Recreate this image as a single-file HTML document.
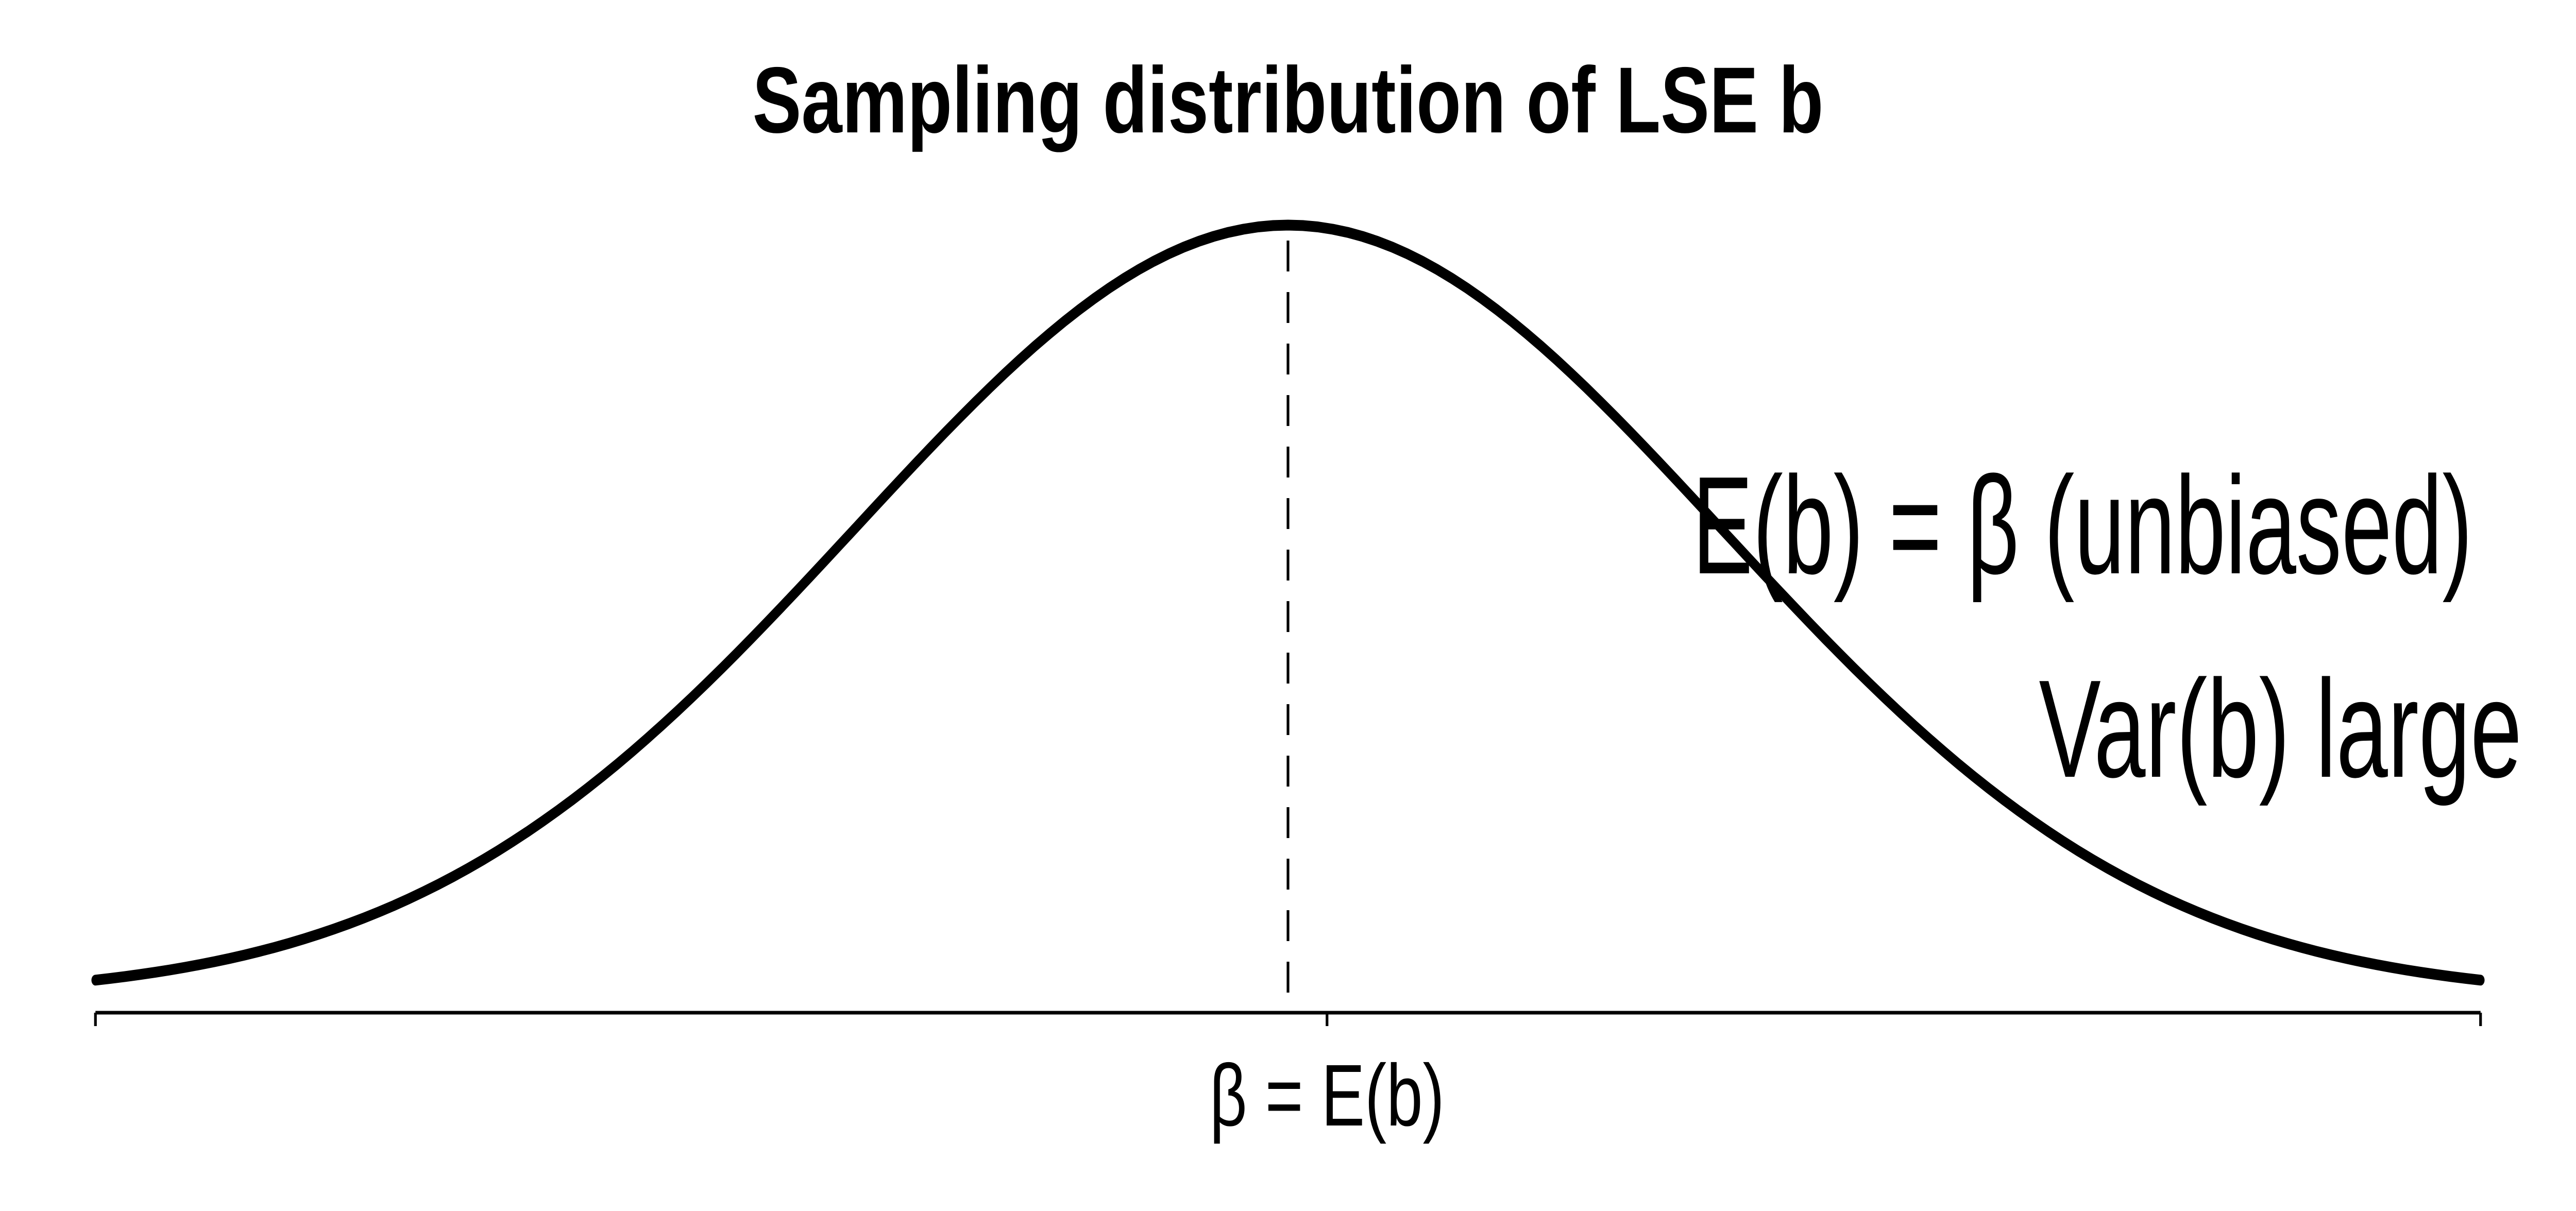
<!DOCTYPE html>
<html><head><meta charset="utf-8"><style>
html,body{margin:0;padding:0;background:#fff;width:100%;height:100%;overflow:hidden;}
svg{display:block;width:100vw;height:100vh;}
</style></head><body>
<svg id="chart" viewBox="0 0 6720 2351" preserveAspectRatio="none" xmlns="http://www.w3.org/2000/svg" font-family="'Liberation Sans', sans-serif">
<rect width="6720" height="2351" fill="#fff"/>
<text x="3360" y="257" text-anchor="middle" font-size="182" font-weight="bold" textLength="2794" lengthAdjust="spacingAndGlyphs">Sampling distribution of LSE b</text>
<g id="plot"></g>
<text x="6450" y="1113" text-anchor="end" font-size="270" textLength="2035" lengthAdjust="spacingAndGlyphs">E(b) = β (unbiased)</text>
<text x="6579" y="1508" text-anchor="end" font-size="270" textLength="1260" lengthAdjust="spacingAndGlyphs">Var(b) large</text>
</svg>
<script>
const xDomain = [-2.75, 2.75];
const distMean = [0];
const distSd = [1];
const tickValues = [-2.75, 0.09, 2.75];
const tickLabels = ["", "β = E(b)", ""];
const xPx = [249, 6471];
const yZeroPx = 1937, peakPx = 437;
const ns = "http://www.w3.org/2000/svg";
const g = document.getElementById('plot');
function sx(v){return xPx[0] + (v - xDomain[0]) / (xDomain[1] - xDomain[0]) * (xPx[1] - xPx[0]);}
function dens(v){return Math.exp(-0.5 * Math.pow((v - distMean[0]) / distSd[0], 2));}
function sy(d){return yZeroPx - d * (yZeroPx - peakPx);}
let pts = [];
for (let i = 0; i <= 160; i++) {
  const v = xDomain[0] + (xDomain[1] - xDomain[0]) * i / 160;
  pts.push(sx(v).toFixed(1) + ',' + sy(dens(v)).toFixed(1));
}
const curve = document.createElementNS(ns, 'polyline');
curve.setAttribute('points', pts.join(' '));
curve.setAttribute('fill', 'none');
curve.setAttribute('stroke', '#000');
curve.setAttribute('stroke-width', '21');
curve.setAttribute('stroke-linecap', 'round');
curve.setAttribute('stroke-linejoin', 'round');


g.appendChild(curve);
const ml = document.createElementNS(ns, 'line');
ml.setAttribute('x1', sx(distMean[0])); ml.setAttribute('x2', sx(distMean[0]));
ml.setAttribute('y1', sy(dens(distMean[0])) + 30); ml.setAttribute('y2', 1950);
ml.setAttribute('stroke', '#000'); ml.setAttribute('stroke-width', '7');
ml.setAttribute('stroke-dasharray', '60 40');


g.appendChild(ml);
const ax = document.createElementNS(ns, 'line');
ax.setAttribute('x1', sx(tickValues[0])); ax.setAttribute('x2', sx(tickValues[tickValues.length - 1]));
ax.setAttribute('y1', 1966); ax.setAttribute('y2', 1966);
ax.setAttribute('stroke', '#000'); ax.setAttribute('stroke-width', '7');


g.appendChild(ax);
tickValues.forEach((t, i) => {
  const tk = document.createElementNS(ns, 'line');
  tk.setAttribute('x1', sx(t)); tk.setAttribute('x2', sx(t));
  tk.setAttribute('y1', 1966); tk.setAttribute('y2', 1992);
  tk.setAttribute('stroke', '#000'); tk.setAttribute('stroke-width', '7');
  
  
  g.appendChild(tk);
  if (tickLabels[i]) {
    const tl = document.createElementNS(ns, 'text');
    tl.setAttribute('x', sx(t)); tl.setAttribute('y', 2185);
    tl.setAttribute('text-anchor', 'middle');
    tl.setAttribute('font-size', '170');
    tl.textContent = tickLabels[i];
    
    
    g.appendChild(tl);
  }
});
</script>
</body></html>
